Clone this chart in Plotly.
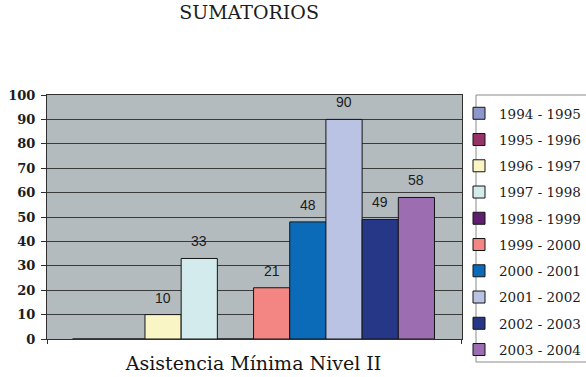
import plotly.graph_objects as go

# Attendance totals per school year
category = "Asistencia Mínima Nivel II"
periods = ["1994 - 1995", "1995 - 1996", "1996 - 1997", "1997 - 1998", "1998 - 1999",
           "1999 - 2000", "2000 - 2001", "2001 - 2002", "2002 - 2003", "2003 - 2004"]
values = [0, 0, 10, 33, 0, 21, 48, 90, 49, 58]
colors = ["#8E97CB", "#96346A", "#FAF5C5", "#D3EBED", "#5E1F6E",
          "#F38683", "#0B6BB8", "#BAC3E3", "#273787", "#9C6DB0"]
y_ticks = [0, 10, 20, 30, 40, 50, 60, 70, 80, 90, 100]

SERIF = "DejaVu Serif"
SANS = "Liberation Sans, Arial"
INK = "#1c1c1c"

W, H = 586, 377
ML, MR, MT, MB = 47, 124, 95, 38
PW, PH = W - ML - MR, H - MT - MB


def px_x(p):
    """Horizontal pixel -> paper fraction."""
    return (p - ML) / PW


def px_y(p):
    """Vertical pixel (from top) -> paper fraction."""
    return (H - MB - p) / PH


fig = go.Figure()
for i, (name, v, c) in enumerate(zip(periods, values, colors)):
    fig.add_trace(go.Bar(
        x=[i], y=[v], width=1, name=name, legendgroup=name,
        marker=dict(color=c, line=dict(color="#151515", width=1)),
        hoverinfo="name+y",
    ))
    if v:
        fig.add_annotation(x=i, y=v, text=str(v), showarrow=False,
                           yanchor="middle", yshift=17,
                           font=dict(family=SANS, size=14, color=INK))

n = len(periods)
x_lo, x_hi = -0.707 - 0.5, n - 0.5 + 0.76

# legend frame
fig.add_shape(type="rect", xref="paper", yref="paper",
              x0=px_x(476), x1=px_x(600), y0=px_y(362), y1=px_y(95),
              line=dict(color="#8A8A8A", width=1), fillcolor="white",
              layer="below")

fig.update_layout(
    width=W, height=H,
    margin=dict(l=ML, r=MR, t=MT, b=MB, autoexpand=False),
    paper_bgcolor="white",
    plot_bgcolor="#B4BBBF",
    showlegend=True,
    title=dict(text="SUMATORIOS", x=0.425, xanchor="center",
               y=1 - 12.5 / H, yanchor="middle", yref="container",
               font=dict(family=SERIF, size=19, color=INK)),
    legend=dict(x=px_x(W), xanchor="right", y=px_y(98), yanchor="top",
                bgcolor="rgba(0,0,0,0)", borderwidth=0,
                traceorder="grouped", tracegroupgap=5.7, maxheight=340,
                font=dict(family=SERIF, size=13.5, color=INK)),
    xaxis=dict(range=[x_lo, x_hi], tickmode="array",
               tickvals=[(n - 1) / 2], ticktext=[category],
               ticks="", showgrid=False, zeroline=False,
               showline=True, linecolor="#303030", linewidth=1, mirror=True,
               ticklabelstandoff=7,
               tickfont=dict(family=SERIF, size=19, color="#141414"),
               minor=dict(tickmode="array", tickvals=[x_lo + 0.01, x_hi - 0.01],
                          ticks="outside", ticklen=4, tickcolor="#303030",
                          showgrid=False),
               fixedrange=True),
    yaxis=dict(range=[0, 100], tickmode="array", tickvals=y_ticks,
               showgrid=True, gridcolor="#3A3A3A", gridwidth=1,
               zeroline=False, showline=True, linecolor="#303030",
               linewidth=1, mirror=True,
               ticks="outside", ticklen=5, tickcolor="#303030",
               ticklabelstandoff=3,
               tickfont=dict(family=SERIF, size=13, color=INK, weight="bold"),
               fixedrange=True),
)

fig.write_html("out.html")
